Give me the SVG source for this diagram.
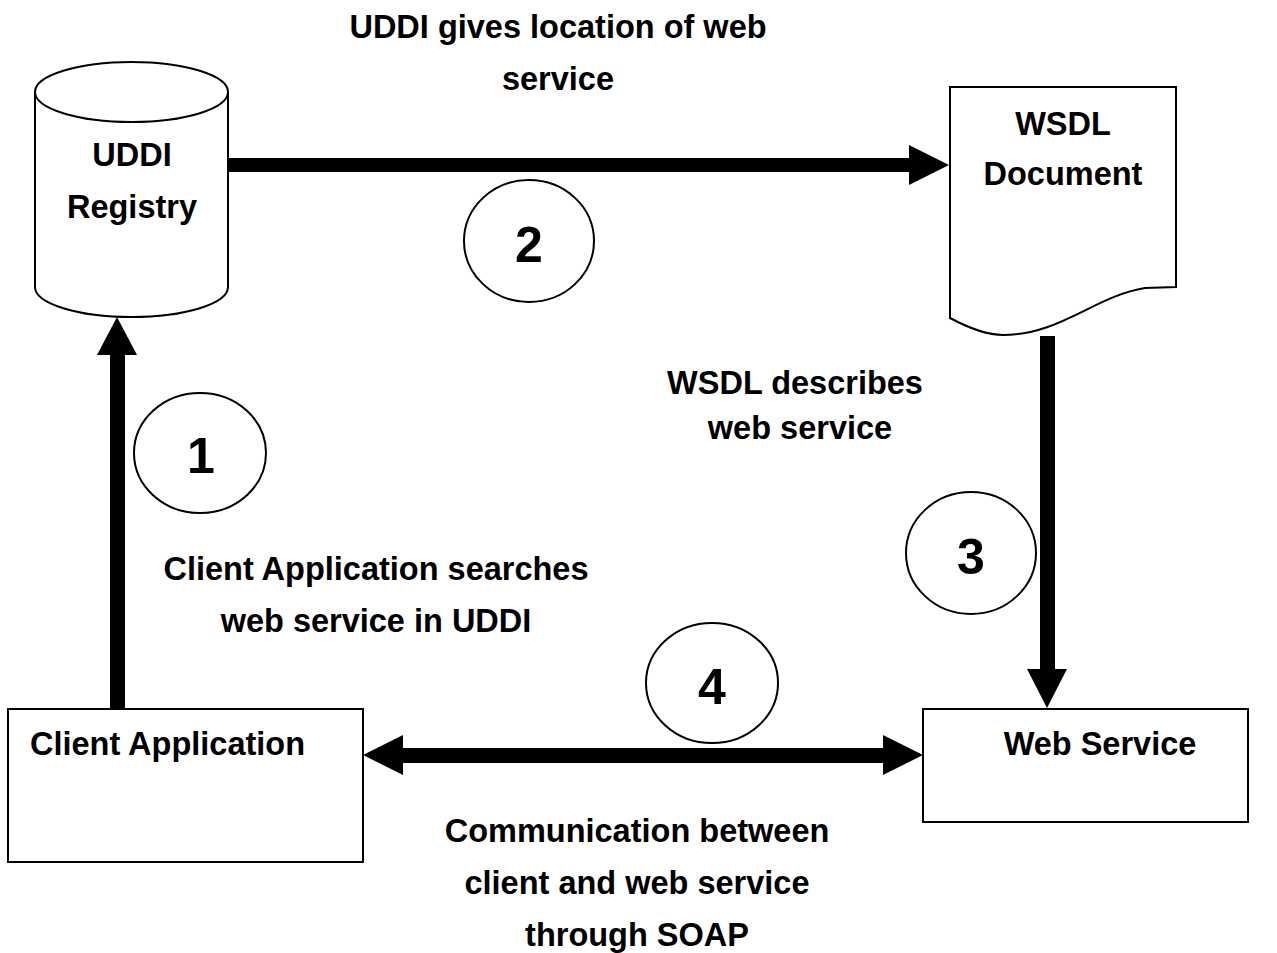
<svg xmlns="http://www.w3.org/2000/svg" width="1277" height="953" viewBox="0 0 1277 953">
<style>
.shape{fill:#fff;stroke:#000;stroke-width:2}
.lbl{font-family:"Liberation Sans",Arial,sans-serif;font-weight:bold;font-size:32.5px;fill:#000;text-anchor:middle}
.num{font-family:"Liberation Sans",Arial,sans-serif;font-weight:bold;font-size:50px;fill:#000;text-anchor:middle}
.arr{fill:#000;stroke:none}
</style>
<rect width="1277" height="953" fill="#fff"/>
<g id="connectors">
  <rect class="arr" x="228" y="158" width="683" height="14"/>
  <polygon class="arr" points="909,145 949,165 909,185"/>
  <rect class="arr" x="110" y="353" width="15" height="356"/>
  <polygon class="arr" points="97,355 117,317 137,355"/>
  <rect class="arr" x="1040" y="336" width="15" height="335"/>
  <polygon class="arr" points="1027,669 1047,708 1067,669"/>
  <rect class="arr" x="401" y="748" width="484" height="15"/>
  <polygon class="arr" points="403,735 363,755 403,775"/>
  <polygon class="arr" points="883,735 923,755 883,775"/>
</g>
<g id="uddi-registry">
  <path class="shape" d="M35,92 L35,287 A96.5,30 0 0 0 228,287 L228,92"/>
  <ellipse class="shape" cx="131.5" cy="92" rx="96.5" ry="30"/>
  <text class="lbl" x="132" y="166">UDDI</text>
  <text class="lbl" x="132" y="218">Registry</text>
</g>
<g id="wsdl-document">
  <path class="shape" d="M950,87 L1176,87 L1176,287 L1145,288 C1095,296 1060,335 1003,335 C985,335 965,326 950,318 Z"/>
  <text class="lbl" x="1063" y="135">WSDL</text>
  <text class="lbl" x="1063" y="185">Document</text>
</g>
<g id="client-application">
  <rect class="shape" x="8" y="709" width="355" height="153"/>
  <text class="lbl" x="30" y="755" style="text-anchor:start">Client Application</text>
</g>
<g id="web-service">
  <rect class="shape" x="923" y="709" width="325" height="113"/>
  <text class="lbl" x="1100" y="755">Web Service</text>
</g>
<g id="step1">
  <ellipse class="shape" cx="200" cy="453" rx="66" ry="60"/>
  <text class="num" x="201" y="473">1</text>
</g>
<g id="step2">
  <ellipse class="shape" cx="529" cy="241" rx="65" ry="61"/>
  <text class="num" x="529" y="262">2</text>
</g>
<g id="step3">
  <ellipse class="shape" cx="971" cy="553" rx="65" ry="61"/>
  <text class="num" x="971" y="574">3</text>
</g>
<g id="step4">
  <ellipse class="shape" cx="712" cy="683" rx="66" ry="60"/>
  <text class="num" x="712" y="704">4</text>
</g>
<g id="labels">
  <text class="lbl" x="558" y="38">UDDI gives location of web</text>
  <text class="lbl" x="558" y="90">service</text>
  <text class="lbl" x="795" y="394">WSDL describes</text>
  <text class="lbl" x="800" y="439">web service</text>
  <text class="lbl" x="376" y="580">Client Application searches</text>
  <text class="lbl" x="376" y="632">web service in UDDI</text>
  <text class="lbl" x="637" y="842">Communication between</text>
  <text class="lbl" x="637" y="894">client and web service</text>
  <text class="lbl" x="637" y="946">through SOAP</text>
</g>
</svg>
